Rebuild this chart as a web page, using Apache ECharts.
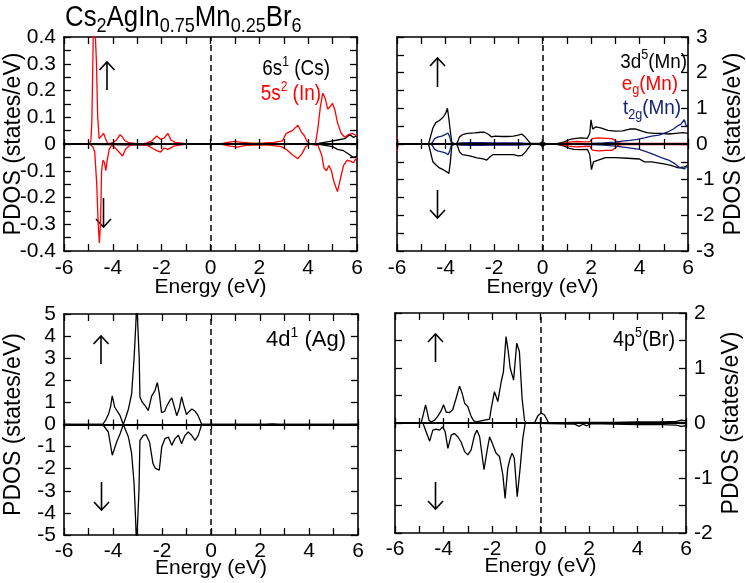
<!DOCTYPE html>
<html><head><meta charset="utf-8">
<script src="https://cdn.jsdelivr.net/npm/echarts/dist/echarts.min.js"></script>
<style>html,body{margin:0;padding:0;background:#fff}#c{width:746px;height:583px}</style>
</head><body><div id="c"></div>
<script>
// ---------- data (energy in eV, PDOS in states/eV) ----------
const csUp = [[-6,0],[-2.6,0],[-2.4,0.005],[-2.2,0],[4.3,0],[4.6,0.005],[4.9,0.01],[5.2,0.015],[5.5,0.02],[5.7,0.035],[5.85,0.025],[6,0.03]];
const csDn = [[-6,0],[-2.5,-0.004],[-2.3,0],[4.4,0],[4.7,-0.005],[5.0,-0.01],[5.2,-0.02],[5.45,-0.025],[5.7,-0.04],[5.85,-0.05],[6,-0.045]];
const inUp = [[-6,0],[-5.0,0],[-4.9,0.01],[-4.86,0.08],[-4.82,0.3],[-4.78,0.55],[-4.72,0.55],[-4.67,0.3],[-4.62,0.1],[-4.56,0.02],[-4.48,0.025],[-4.38,0.04],[-4.3,0.02],[-4.2,0],[-4.0,0.005],[-3.85,0.015],[-3.7,0.035],[-3.6,0.025],[-3.5,0.012],[-3.35,0.005],[-3.1,0.002],[-2.8,0],[-2.6,0.004],[-2.4,0.012],[-2.2,0.03],[-2.05,0.018],[-1.9,0.022],[-1.75,0.04],[-1.62,0.015],[-1.45,0.006],[-1.2,0.003],[-0.95,0],[0.4,0],[0.7,0.006],[1.0,0.01],[1.3,0.006],[1.6,0.004],[1.9,0.003],[2.2,0.004],[2.6,0.006],[2.95,0.012],[3.1,0.04],[3.35,0.05],[3.58,0.07],[3.72,0.045],[3.85,0.03],[3.95,0.01],[4.1,0],[4.3,0.002],[4.4,0.06],[4.5,0.14],[4.6,0.19],[4.7,0.17],[4.8,0.13],[4.9,0.14],[5.0,0.152],[5.1,0.125],[5.2,0.08],[5.35,0.04],[5.5,0.025],[5.65,0.035],[5.8,0.04],[6.0,0.03]];
const inDn = [[-6,0],[-4.95,0],[-4.82,-0.01],[-4.74,-0.03],[-4.66,-0.15],[-4.6,-0.3],[-4.55,-0.37],[-4.5,-0.28],[-4.46,-0.1],[-4.4,-0.06],[-4.34,-0.07],[-4.29,-0.1],[-4.23,-0.06],[-4.15,-0.02],[-4.05,-0.005],[-3.9,-0.015],[-3.75,-0.03],[-3.6,-0.045],[-3.48,-0.02],[-3.3,-0.005],[-3.0,0],[-2.6,-0.005],[-2.4,-0.015],[-2.2,-0.025],[-2.05,-0.03],[-1.9,-0.015],[-1.75,-0.02],[-1.5,-0.008],[-1.2,-0.003],[-0.95,0],[0.4,0],[0.8,-0.008],[1.1,-0.012],[1.4,-0.006],[1.8,-0.003],[2.4,-0.004],[2.9,-0.01],[3.1,-0.02],[3.35,-0.04],[3.58,-0.055],[3.75,-0.035],[3.9,-0.01],[4.05,0],[4.4,-0.005],[4.55,-0.04],[4.65,-0.09],[4.75,-0.1],[4.85,-0.08],[4.95,-0.1],[5.05,-0.14],[5.2,-0.178],[5.32,-0.13],[5.45,-0.08],[5.6,-0.06],[5.75,-0.065],[5.85,-0.07],[6.0,-0.05]];

const mnUp = [[-6,0],[-4.7,0],[-4.62,0.05],[-4.52,0.45],[-4.4,0.6],[-4.25,0.66],[-4.1,0.75],[-4.0,0.85],[-3.92,1.0],[-3.86,0.7],[-3.8,0.35],[-3.74,0.05],[-3.62,0],[-3.52,0.03],[-3.42,0.2],[-3.3,0.26],[-3.1,0.3],[-2.8,0.31],[-2.55,0.33],[-2.4,0.33],[-2.25,0.28],[-2.1,0.2],[-1.95,0.22],[-1.7,0.21],[-1.45,0.21],[-1.2,0.22],[-1.0,0.25],[-0.86,0.28],[-0.72,0.2],[-0.6,0.1],[-0.5,0.02],[-0.42,0],[-0.1,0.02],[0.0,0.07],[0.1,0.02],[0.3,0],[0.6,0.01],[0.9,0.06],[1.1,0.12],[1.3,0.15],[1.6,0.17],[1.85,0.16],[1.95,0.3],[2.0,0.68],[2.07,0.42],[2.2,0.48],[2.4,0.45],[2.7,0.38],[3.0,0.36],[3.3,0.37],[3.6,0.42],[3.85,0.42],[4.1,0.36],[4.3,0.32],[4.6,0.3],[4.9,0.3],[5.2,0.28],[5.5,0.3],[5.8,0.32],[6.0,0.3]];
const mnDn = [[-6,0],[-4.7,0],[-4.62,-0.05],[-4.52,-0.5],[-4.4,-0.58],[-4.25,-0.67],[-4.1,-0.72],[-3.95,-0.78],[-3.86,-0.83],[-3.8,-0.5],[-3.74,-0.05],[-3.62,0],[-3.52,-0.03],[-3.42,-0.22],[-3.3,-0.3],[-3.0,-0.33],[-2.7,-0.39],[-2.45,-0.42],[-2.3,-0.45],[-2.15,-0.35],[-2.05,-0.3],[-1.8,-0.3],[-1.5,-0.3],[-1.2,-0.3],[-1.0,-0.33],[-0.85,-0.32],[-0.7,-0.22],[-0.55,-0.08],[-0.45,0],[-0.1,-0.02],[0.0,-0.07],[0.1,-0.02],[0.3,0],[0.6,-0.01],[0.9,-0.06],[1.1,-0.12],[1.3,-0.15],[1.6,-0.16],[1.85,-0.15],[1.95,-0.3],[2.02,-0.72],[2.1,-0.5],[2.3,-0.45],[2.6,-0.38],[3.0,-0.38],[3.5,-0.4],[4.0,-0.42],[4.2,-0.5],[4.5,-0.5],[4.75,-0.53],[5.0,-0.56],[5.3,-0.6],[5.6,-0.67],[5.85,-0.64],[6.0,-0.6]];
const egUp = [[-6,0.2],[-5.96,0],[-4.6,0],[-4.4,0.01],[-4.0,0.01],[-3.7,0],[0.5,0],[0.8,0.02],[1.1,0.05],[1.4,0.07],[1.7,0.06],[1.95,0.06],[2.05,0.15],[2.3,0.17],[2.6,0.16],[2.85,0.15],[3.0,0.1],[3.1,0.04],[3.3,0.02],[4.0,0.02],[5.0,0.02],[6,0.02]];
const egDn = [[-6,-0.2],[-5.96,0],[-4.6,0],[-4.4,-0.01],[-4.0,-0.01],[-3.7,0],[0.5,0],[0.8,-0.02],[1.1,-0.06],[1.4,-0.08],[1.7,-0.07],[1.95,-0.06],[2.05,-0.17],[2.3,-0.19],[2.6,-0.18],[2.85,-0.18],[3.0,-0.12],[3.1,-0.04],[3.3,-0.02],[4.0,-0.02],[5.0,-0.02],[6,-0.02]];
const t2gUp = [[-6,0],[-4.65,0],[-4.55,0.03],[-4.45,0.15],[-4.3,0.2],[-4.15,0.22],[-4.0,0.27],[-3.9,0.31],[-3.83,0.2],[-3.76,0.03],[-3.6,0],[-3.4,0.03],[-3.0,0.04],[-2.5,0.04],[-2.0,0.03],[-1.5,0.03],[-1.0,0.03],[-0.6,0.02],[-0.45,0],[0.3,0],[1.0,0.01],[2.0,0.02],[2.5,0.03],[3.0,0.05],[3.3,0.08],[3.6,0.1],[3.9,0.13],[4.2,0.17],[4.5,0.22],[4.8,0.25],[5.0,0.3],[5.2,0.35],[5.4,0.42],[5.55,0.5],[5.7,0.55],[5.85,0.68],[5.93,0.5],[6.0,0.52]];
const t2gDn = [[-6,0],[-4.65,0],[-4.55,-0.03],[-4.45,-0.15],[-4.3,-0.2],[-4.15,-0.22],[-4.0,-0.25],[-3.9,-0.3],[-3.83,-0.2],[-3.76,-0.03],[-3.6,0],[-3.4,-0.03],[-3.0,-0.04],[-2.5,-0.04],[-2.0,-0.03],[-1.5,-0.03],[-1.0,-0.03],[-0.6,-0.02],[-0.45,0],[0.3,0],[1.0,-0.01],[2.0,-0.02],[2.5,-0.03],[3.0,-0.06],[3.5,-0.1],[4.0,-0.15],[4.3,-0.22],[4.6,-0.3],[4.9,-0.38],[5.2,-0.45],[5.45,-0.55],[5.65,-0.66],[5.85,-0.7],[6.0,-0.6]];

const agUp = [[-6,0],[-4.6,0],[-4.42,0],[-4.3,0.2],[-4.19,0.45],[-4.1,0.8],[-4.03,1.3],[-3.93,0.78],[-3.71,0.4],[-3.58,0],[-3.47,0.35],[-3.37,0.7],[-3.24,1.38],[-3.14,3.0],[-3.07,4.5],[-3.03,5.6],[-2.96,5.6],[-2.93,3.0],[-2.9,1.23],[-2.8,1.0],[-2.69,0.85],[-2.56,0.63],[-2.42,1.3],[-2.29,1.52],[-2.19,1.9],[-2.11,1.4],[-2.02,0.55],[-1.9,0.58],[-1.8,0.85],[-1.67,1.1],[-1.6,1.2],[-1.52,0.9],[-1.4,0.4],[-1.3,0.7],[-1.2,1.25],[-1.12,0.9],[-1.0,0.45],[-0.9,0.58],[-0.78,0.7],[-0.65,0.6],[-0.55,0.45],[-0.45,0.2],[-0.38,0],[2.2,0],[2.5,0.03],[2.8,0],[6,0]];
const agDn = [[-6,0],[-4.6,0],[-4.42,0],[-4.19,-0.34],[-4.03,-1.39],[-3.85,-0.79],[-3.71,-0.42],[-3.58,0],[-3.37,-0.57],[-3.24,-1.31],[-3.14,-2.66],[-3.07,-4.5],[-3.04,-5.6],[-2.97,-5.6],[-2.94,-3.0],[-2.9,-0.72],[-2.76,-0.49],[-2.65,-0.46],[-2.51,-0.79],[-2.37,-1.76],[-2.27,-1.99],[-2.2,-1.9],[-2.11,-2.06],[-2.01,-1.01],[-1.88,-0.64],[-1.74,-0.57],[-1.6,-0.94],[-1.47,-0.64],[-1.33,-0.49],[-1.2,-0.87],[-1.06,-0.49],[-0.93,-0.34],[-0.79,-0.49],[-0.65,-0.72],[-0.52,-0.49],[-0.38,0],[6,0]];

const brUp = [[-6,0],[-4.92,0],[-4.82,0.18],[-4.74,0.33],[-4.66,0.18],[-4.6,0.05],[-4.51,0.02],[-4.37,0.05],[-4.24,0.12],[-4.1,0.22],[-4.0,0.33],[-3.89,0.2],[-3.75,0.19],[-3.62,0.24],[-3.48,0.45],[-3.34,0.67],[-3.23,0.54],[-3.13,0.36],[-3.0,0.3],[-2.86,0.12],[-2.75,0.04],[-2.65,0.02],[-2.45,0.04],[-2.1,0.07],[-2.03,0.27],[-1.9,0.57],[-1.76,0.39],[-1.62,0.75],[-1.53,0.93],[-1.42,1.57],[-1.33,1.3],[-1.25,1.0],[-1.11,0.78],[-0.98,1.45],[-0.87,1.3],[-0.76,0.45],[-0.66,0.05],[-0.59,0],[-0.25,0],[-0.11,0.13],[0.03,0.18],[0.16,0.15],[0.34,0],[1.5,0.01],[2,0.01],[3,0.01],[4,0.02],[5,0.02],[5.6,0.03],[5.8,0.05],[6,0.04]];
const brDn = [[-6,0],[-4.85,0],[-4.74,-0.13],[-4.57,-0.33],[-4.44,-0.13],[-4.3,-0.11],[-4.16,-0.13],[-4.03,-0.07],[-3.93,-0.16],[-3.82,-0.46],[-3.68,-0.22],[-3.55,-0.19],[-3.41,-0.25],[-3.27,-0.35],[-3.13,-0.52],[-3.0,-0.58],[-2.86,-0.49],[-2.72,-0.22],[-2.62,-0.13],[-2.51,-0.25],[-2.33,-0.85],[-2.21,-0.52],[-2.1,-0.25],[-1.96,-0.4],[-1.83,-0.55],[-1.69,-0.61],[-1.55,-0.95],[-1.46,-1.37],[-1.35,-0.82],[-1.25,-0.64],[-1.17,-0.55],[-1.08,-0.64],[-0.96,-1.34],[-0.84,-0.82],[-0.73,-0.28],[-0.63,0],[1.4,-0.02],[1.6,-0.06],[1.75,-0.02],[1.9,-0.05],[2.1,-0.01],[3,-0.02],[4,-0.03],[5,-0.03],[5.6,-0.04],[5.8,-0.06],[6,-0.05]];

// axis ranges [min, max, label interval]
const energyRange = [-6, 6];
const yRangeCs = [-0.4, 0.4, 0.1];
const yRangeMn = [-3, 3, 1];
const yRangeAg = [-5, 5, 1];
const yRangeBr = [-2, 2, 1];

// ---------- rendering ----------
const TXFONT = '"Liberation Sans"';
const AXFONT = "'Liberation Sans',Arial,sans-serif";
const SX = 0.86;
const RED = '#ff0000', NAVY = '#14217a', BLK = '#000000';

const panels = [
  {grid:{left:64, top:37, width:293, height:214}, y:yRangeCs, minor:2, leftLabels:true, nameGap:26, margin:7},
  {grid:{left:397, top:37, width:291, height:214}, y:yRangeMn, minor:2, leftLabels:false, nameGap:26, margin:7},
  {grid:{left:64, top:314, width:294, height:221}, y:yRangeAg, minor:0, leftLabels:true, nameGap:23, margin:6},
  {grid:{left:395, top:313, width:291, height:220}, y:yRangeBr, minor:2, leftLabels:false, nameGap:23, margin:6}
];

const grid = [], xAxis = [], yAxis = [];
const axLine = {show:true, lineStyle:{color:'#000', width:1.6}};
const tickStyle = {color:'#000', width:1.3};
panels.forEach((p, g) => {
  grid.push(Object.assign({outerBoundsMode:'none', containLabel:false}, p.grid));
  const xb = {type:'value', gridIndex:g, min:energyRange[0], max:energyRange[1], interval:2,
    axisLine:Object.assign({onZero:false}, axLine), splitLine:{show:false},
    axisTick:{show:true, inside:true, length:7, lineStyle:tickStyle},
    minorTick:{show:true, splitNumber:2, length:7, lineStyle:tickStyle}};
  xAxis.push(Object.assign({}, xb, {position:'bottom', name:'Energy (eV)', nameLocation:'middle', nameGap:p.nameGap, nameMoveOverlap:false,
    nameTextStyle:{fontFamily:AXFONT, fontSize:21, color:'#000'},
    axisLabel:{show:true, margin:p.margin, fontFamily:AXFONT, fontSize:21, color:'#000', showMinLabel:true, showMaxLabel:true, hideOverlap:false}}));
  xAxis.push(Object.assign({}, xb, {position:'top', axisLabel:{show:false}}));
  const z = {type:'value', gridIndex:g, min:energyRange[0], max:energyRange[1], interval:1, position:'bottom', z:10,
    axisLine:{show:true, onZero:true, lineStyle:{color:'#000', width:2}}, splitLine:{show:false}, axisLabel:{show:false}};
  xAxis.push(Object.assign({}, z, {axisTick:{show:true, inside:true, length:5, lineStyle:tickStyle}}));
  xAxis.push(Object.assign({}, z, {axisTick:{show:true, inside:false, length:5, lineStyle:tickStyle}}));
  const yb = {type:'value', gridIndex:g, min:p.y[0], max:p.y[1], interval:p.y[2],
    axisLine:Object.assign({onZero:false}, axLine), splitLine:{show:false},
    axisTick:{show:true, inside:true, length:7, lineStyle:tickStyle},
    minorTick:{show:p.minor>0, splitNumber:p.minor||1, length:7, lineStyle:tickStyle},
    nameMoveOverlap:false,
    nameTextStyle:{fontFamily:TXFONT, fontSize:23, color:'#000'}};
  const lbl = {show:true, margin:8, fontFamily:AXFONT, fontSize:21, lineHeight:16, color:'#000', showMinLabel:true, showMaxLabel:true, hideOverlap:false};
  yAxis.push(Object.assign({}, yb, {position:'left',
    name:p.leftLabels ? 'PDOS (states/eV)' : '', nameLocation:'middle', nameGap:39,
    axisLabel:p.leftLabels ? lbl : {show:false}}));
  yAxis.push(Object.assign({}, yb, {position:'right',
    name:p.leftLabels ? '' : 'PDOS (states/eV)', nameLocation:'middle', nameGap:34,
    axisLabel:p.leftLabels ? {show:false} : lbl}));
});

function mk(data, color, g, withZeroLine) {
  const s = {type:'line', data:data, xAxisIndex:4*g, yAxisIndex:2*g, symbol:'none', showSymbol:false,
    lineStyle:{color:color, width:1.3}, itemStyle:{color:color}, silent:true, animation:false, z:3};
  if (withZeroLine) s.markLine = {silent:true, symbol:['none','none'], label:{show:false}, animation:false,
    lineStyle:{color:'#000', width:1.5, type:[6,4]}, data:[{xAxis:0}]};
  return s;
}
const series = [
  mk(csUp, BLK, 0, true), mk(csDn, BLK, 0), mk(inUp, RED, 0), mk(inDn, RED, 0),
  mk(mnUp, BLK, 1, true), mk(mnDn, BLK, 1), mk(egUp, RED, 1), mk(egDn, RED, 1), mk(t2gUp, NAVY, 1), mk(t2gDn, NAVY, 1),
  mk(agUp, BLK, 2, true), mk(agDn, BLK, 2),
  mk(brUp, BLK, 3, true), mk(brDn, BLK, 3)
];

// text helpers (measured pieces, compressed horizontally like the original)
const mctx = document.createElement('canvas').getContext('2d');
function tw(t, s) { mctx.font = s + 'px ' + TXFONT; return mctx.measureText(t).width; }
function rich(anchorX, cy, parts, align, sx) {
  const k = sx || SX;
  let x = 0; const kids = [];
  parts.forEach(pt => {
    kids.push({type:'text', x:x, y:pt[2], silent:true,
      style:{text:pt[0], font:pt[1] + 'px ' + TXFONT, fill:pt[3], textAlign:'left', align:'left', textVerticalAlign:'middle', verticalAlign:'middle'}});
    x += tw(pt[0], pt[1]);
  });
  const gx = align === 'right' ? anchorX - x * k : anchorX;
  return {type:'group', x:gx, y:cy, scaleX:k, scaleY:1, silent:true, children:kids};
}
function arrow(x, tip, tail) {
  const d = tip < tail ? 8 : -8;
  return {type:'group', silent:true, children:[
    {type:'line', shape:{x1:x, y1:tip, x2:x, y2:tail}, style:{stroke:'#000', lineWidth:1.6}},
    {type:'polyline', shape:{points:[[x-7.5, tip+d],[x, tip],[x+7.5, tip+d]]}, style:{stroke:'#000', lineWidth:1.6, fill:null}}
  ]};
}
const graphic = [
  rich(65, 18, [['Cs',30,0,BLK],['2',21,8,BLK],['AgIn',30,0,BLK],['0.75',21,8,BLK],['Mn',30,0,BLK],['0.25',21,8,BLK],['Br',30,0,BLK],['6',21,8,BLK]], 'left'),
  rich(330, 69, [['6s',22,0,BLK],['1',14,-7,BLK],[' (Cs)',22,0,BLK]], 'right'),
  rich(321, 94, [['5s',22,0,RED],['2',14,-7,RED],[' (In)',22,0,RED]], 'right'),
  rich(687, 62, [['3d',21,0,BLK],['5',14,-7,BLK],['(Mn)',21,0,BLK]], 'right', 0.9),
  rich(678, 84, [['e',21,0,RED],['g',14,6,RED],['(Mn)',21,0,RED]], 'right', 0.9),
  rich(681, 108, [['t',21,0,NAVY],['2g',14,7,NAVY],['(Mn)',21,0,NAVY]], 'right', 0.9),
  rich(346, 340, [['4d',22,0,BLK],['1',14,-7,BLK],[' (Ag)',22,0,BLK]], 'right', 1.0),
  rich(675, 340, [['4p',22,0,BLK],['5',14,-7,BLK],['(Br)',22,0,BLK]], 'right', 0.9),
  arrow(107, 62, 90), arrow(103.5, 227, 198),
  arrow(437.5, 58, 87), arrow(437.5, 218, 190),
  arrow(101, 336, 364), arrow(101.5, 510, 482),
  arrow(435.5, 334, 362), arrow(435.5, 509, 482)
];

const chart = echarts.init(document.getElementById('c'), null, {renderer:'canvas'});
chart.setOption({animation:false, backgroundColor:'#fff', grid:grid, xAxis:xAxis, yAxis:yAxis, series:series, graphic:graphic});
</script>
</body></html>
